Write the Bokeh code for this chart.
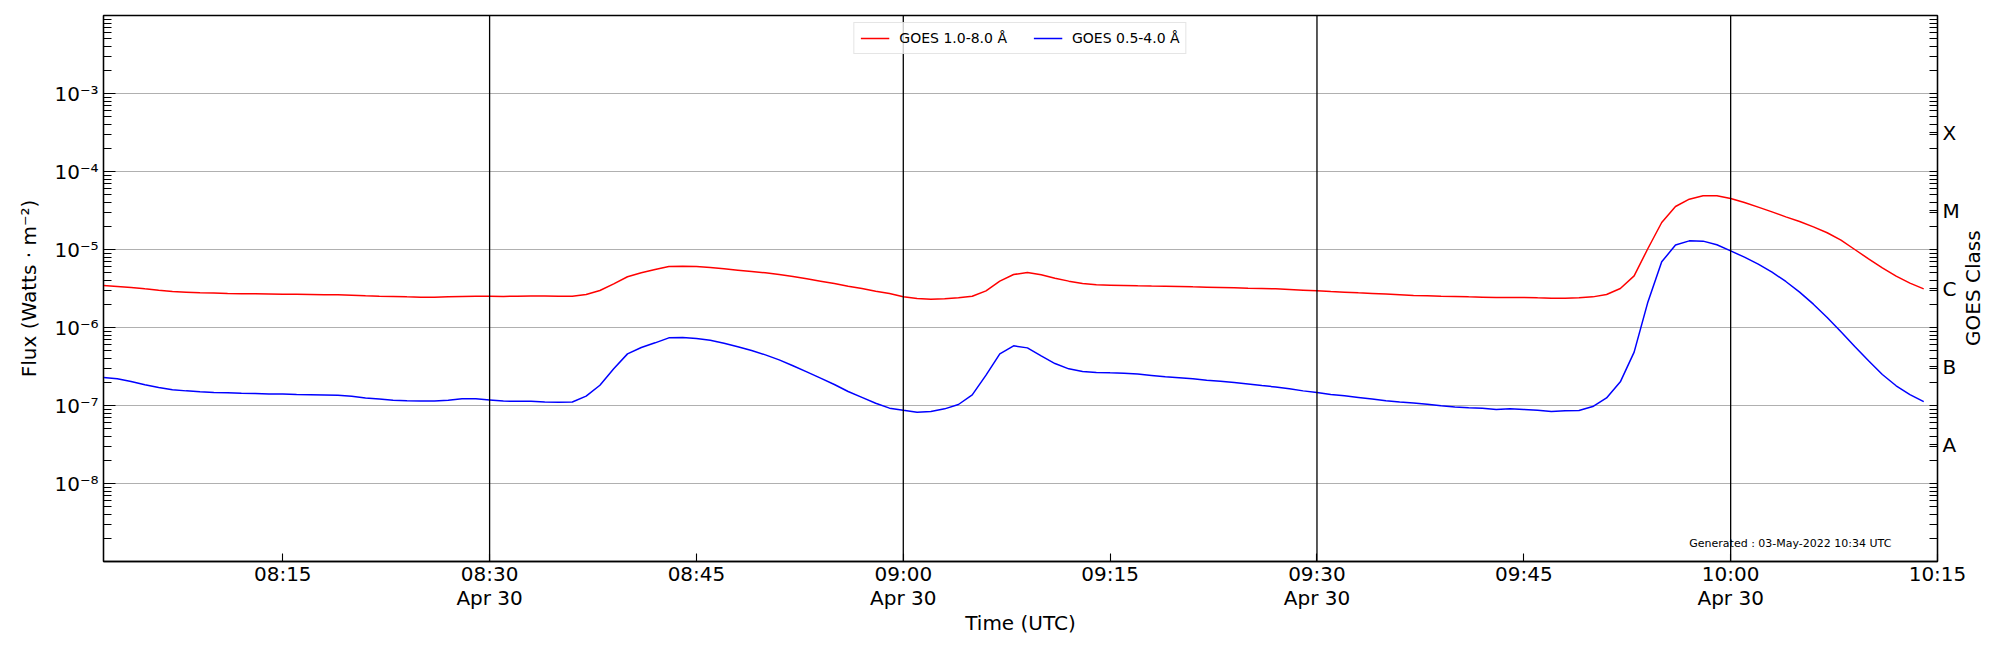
import math
import numpy as np
from bokeh.plotting import figure
from bokeh.models import LogAxis, FixedTicker, Span, Legend, LegendItem, Label, ColumnDataSource
from bokeh.embed import file_html
from bokeh.resources import INLINE

# ---------------- data (1-minute GOES XRS samples, 2022-04-30 08:02 .. 10:14 UTC) ----------------
start_minute = 2          # minutes after 08:00 of first sample
n_samples = 133

goes_long = [  # GOES 1.0-8.0 A, W m^-2
    3.45e-6, 3.36e-6, 3.26e-6, 3.13e-6, 3.01e-6, 2.90e-6, 2.84e-6, 2.78e-6, 2.76e-6, 2.73e-6,
    2.71e-6, 2.71e-6, 2.69e-6, 2.67e-6, 2.67e-6, 2.65e-6, 2.62e-6, 2.62e-6, 2.59e-6, 2.55e-6,
    2.52e-6, 2.50e-6, 2.47e-6, 2.45e-6, 2.44e-6, 2.47e-6, 2.50e-6, 2.52e-6, 2.52e-6, 2.50e-6,
    2.52e-6, 2.54e-6, 2.54e-6, 2.52e-6, 2.52e-6, 2.65e-6, 2.98e-6, 3.63e-6, 4.47e-6, 5.02e-6,
    5.55e-6, 6.05e-6, 6.10e-6, 6.05e-6, 5.88e-6, 5.65e-6, 5.43e-6, 5.22e-6, 5.02e-6, 4.77e-6,
    4.51e-6, 4.21e-6, 3.93e-6, 3.66e-6, 3.39e-6, 3.16e-6, 2.92e-6, 2.73e-6, 2.48e-6, 2.36e-6,
    2.31e-6, 2.33e-6, 2.40e-6, 2.52e-6, 2.95e-6, 3.93e-6, 4.78e-6, 5.07e-6, 4.74e-6, 4.29e-6,
    3.93e-6, 3.67e-6, 3.52e-6, 3.49e-6, 3.46e-6, 3.42e-6, 3.40e-6, 3.39e-6, 3.36e-6, 3.32e-6,
    3.29e-6, 3.26e-6, 3.23e-6, 3.19e-6, 3.16e-6, 3.13e-6, 3.07e-6, 3.01e-6, 2.95e-6, 2.89e-6,
    2.84e-6, 2.78e-6, 2.73e-6, 2.68e-6, 2.63e-6, 2.57e-6, 2.55e-6, 2.52e-6, 2.50e-6, 2.47e-6,
    2.45e-6, 2.43e-6, 2.43e-6, 2.43e-6, 2.40e-6, 2.38e-6, 2.38e-6, 2.40e-6, 2.47e-6, 2.65e-6,
    3.16e-6, 4.59e-6, 1.03e-5, 2.22e-5, 3.56e-5, 4.42e-5, 4.88e-5, 4.88e-5, 4.51e-5, 4.01e-5,
    3.49e-5, 3.04e-5, 2.62e-5, 2.29e-5, 1.95e-5, 1.64e-5, 1.32e-5, 1.00e-5, 7.59e-6, 5.82e-6,
    4.55e-6, 3.70e-6, 3.13e-6,
]

goes_short = [  # GOES 0.5-4.0 A, W m^-2
    2.29e-7, 2.20e-7, 2.03e-7, 1.84e-7, 1.70e-7, 1.59e-7, 1.54e-7, 1.50e-7, 1.47e-7, 1.46e-7,
    1.44e-7, 1.43e-7, 1.40e-7, 1.40e-7, 1.38e-7, 1.37e-7, 1.36e-7, 1.35e-7, 1.31e-7, 1.25e-7,
    1.21e-7, 1.17e-7, 1.15e-7, 1.14e-7, 1.14e-7, 1.17e-7, 1.22e-7, 1.22e-7, 1.18e-7, 1.14e-7,
    1.13e-7, 1.13e-7, 1.11e-7, 1.10e-7, 1.11e-7, 1.32e-7, 1.82e-7, 2.95e-7, 4.59e-7, 5.54e-7,
    6.36e-7, 7.37e-7, 7.44e-7, 7.22e-7, 6.88e-7, 6.30e-7, 5.65e-7, 5.07e-7, 4.46e-7, 3.85e-7,
    3.23e-7, 2.70e-7, 2.24e-7, 1.86e-7, 1.51e-7, 1.27e-7, 1.07e-7, 9.25e-8, 8.71e-8, 8.22e-8,
    8.40e-8, 9.06e-8, 1.03e-7, 1.37e-7, 2.45e-7, 4.59e-7, 5.82e-7, 5.48e-7, 4.33e-7, 3.45e-7,
    2.95e-7, 2.73e-7, 2.65e-7, 2.62e-7, 2.60e-7, 2.53e-7, 2.43e-7, 2.33e-7, 2.27e-7, 2.20e-7,
    2.11e-7, 2.05e-7, 1.97e-7, 1.89e-7, 1.80e-7, 1.73e-7, 1.64e-7, 1.54e-7, 1.47e-7, 1.38e-7,
    1.33e-7, 1.27e-7, 1.21e-7, 1.15e-7, 1.11e-7, 1.08e-7, 1.04e-7, 9.90e-8, 9.60e-8, 9.33e-8,
    9.20e-8, 8.89e-8, 9.06e-8, 8.89e-8, 8.71e-8, 8.37e-8, 8.54e-8, 8.62e-8, 9.70e-8, 1.25e-7,
    2.01e-7, 4.83e-7, 2.13e-6, 6.95e-6, 1.14e-5, 1.29e-5, 1.28e-5, 1.15e-5, 9.60e-6, 7.97e-6,
    6.49e-6, 5.12e-6, 3.89e-6, 2.84e-6, 1.99e-6, 1.34e-6, 8.80e-7, 5.70e-7, 3.74e-7, 2.50e-7,
    1.79e-7, 1.38e-7, 1.12e-7,
]

x_tick_labels = ["08:15", "08:30\nApr 30", "08:45", "09:00\nApr 30", "09:15",
                 "09:30\nApr 30", "09:45", "10:00\nApr 30", "10:15"]
y_exponents = [-8, -7, -6, -5, -4, -3]
y_tick_labels = ["10⁻⁸", "10⁻⁷", "10⁻⁶", "10⁻⁵", "10⁻⁴", "10⁻³"]
goes_classes = ["A", "B", "C", "M", "X"]
class_exponents = [-8, -7, -6, -5, -4]
series_names = ["GOES 1.0-8.0 Å", "GOES 0.5-4.0 Å"]
right_axis_title = "GOES Class"
generated_text = "Generated : 03-May-2022 10:34 UTC"

# ---------------------------------------------------------------------------------------------
FONT = "DejaVu Sans"
minutes = np.arange(start_minute, start_minute + n_samples)


def label_minute(lbl):
    hh, mm = lbl.split("\n")[0].split(":")
    return (int(hh) - 8) * 60 + int(mm)


x_ticks = [label_minute(l) for l in x_tick_labels]
date_ticks = [label_minute(l) for l in x_tick_labels if "\n" in l]

source = ColumnDataSource(dict(t=minutes, long=goes_long, short=goes_short))

p = figure(width=2000, height=642, y_axis_type="log",
           x_range=(2, 135), y_range=(1e-9, 1e-2),
           output_backend="svg", toolbar_location=None,
           min_border_left=103, min_border_right=63, min_border_top=15, min_border_bottom=81)
p.background_fill_color = "white"
p.border_fill_color = "white"
p.outline_line_color = "black"
p.outline_line_width = 1.3

# ---- y axis (left)
decades = [10.0 ** e for e in y_exponents]
minors = [k * 10.0 ** e for e in range(-9, -2) for k in range(2, 10)]
yax = p.yaxis[0]
yax.ticker = FixedTicker(ticks=decades, minor_ticks=minors)
yax.major_label_overrides = {d: s for d, s in zip(decades, y_tick_labels)}
yax.axis_label = "Flux (Watts · m⁻²)"

# ---- x axis (bottom)
xax = p.xaxis[0]
xax.ticker = FixedTicker(ticks=x_ticks, minor_ticks=[])
xax.major_label_overrides = {t: s for t, s in zip(x_ticks, x_tick_labels)}
xax.axis_label = "Time (UTC)"

# ---- right axis (GOES class)
class_pos = [10.0 ** (e + 0.5) for e in class_exponents]
rax = LogAxis(ticker=FixedTicker(ticks=class_pos, minor_ticks=decades + minors),
              major_label_overrides={v: s for v, s in zip(class_pos, goes_classes)})
p.add_layout(rax, "right")

for ax in (yax, xax, rax):
    ax.axis_line_color = "black"
    ax.axis_line_width = 1.3
    ax.major_tick_out = 0
    ax.minor_tick_out = 0
    ax.major_tick_line_color = "black"
    ax.minor_tick_line_color = "black"
    ax.major_tick_line_width = 1.1
    ax.minor_tick_line_width = 1.1
    ax.major_label_text_font = FONT
    ax.major_label_text_font_size = "20px"
    ax.major_label_text_color = "black"
    ax.axis_label_text_font = FONT
    ax.axis_label_text_font_size = "20px"
    ax.axis_label_text_font_style = "normal"
    ax.axis_label_text_color = "black"

yax.major_tick_in = 12
yax.minor_tick_in = 8
yax.major_label_standoff = 5
yax.axis_label_standoff = 10

xax.major_tick_in = 8
xax.minor_tick_line_color = None
xax.major_label_standoff = 0
xax.major_label_text_line_height = 1.0
xax.axis_label_standoff = -2

rax.major_tick_in = 8
rax.minor_tick_in = 8
rax.major_label_standoff = 5

# right-hand axis title ("GOES Class", reading bottom-to-top) drawn as the single
# tick label of an outer, line-less axis; the label starts at its tick and runs upward,
# so the tick sits half a label-length below the frame's vertical centre.
title_tick = 10 ** -6.237
tax = LogAxis(ticker=FixedTicker(ticks=[title_tick], minor_ticks=[]),
              major_label_overrides={title_tick: right_axis_title},
              major_label_orientation=math.pi / 2,
              axis_line_color=None, major_tick_line_color=None, minor_tick_line_color=None,
              major_tick_in=0, major_tick_out=0, minor_tick_in=0, minor_tick_out=0,
              major_label_standoff=11,
              major_label_text_font=FONT, major_label_text_font_size="20px",
              major_label_text_color="black")
p.add_layout(tax, "right")

# ---- grids
p.xgrid.visible = False
p.ygrid[0].ticker = FixedTicker(ticks=decades, minor_ticks=[])
p.ygrid.grid_line_color = "#b0b0b0"
p.ygrid.grid_line_width = 1.1

for t in date_ticks:
    p.add_layout(Span(location=t, dimension="height", line_color="black", line_width=1.3))

# ---- curves
r1 = p.line("t", "long", source=source, line_color="red", line_width=1.5)
r2 = p.line("t", "short", source=source, line_color="blue", line_width=1.5)

legend = Legend(items=[LegendItem(label=series_names[0], renderers=[r1]),
                       LegendItem(label=series_names[1], renderers=[r2])],
                location="top_center", orientation="horizontal",
                margin=7, padding=6, spacing=26,
                glyph_width=29, glyph_height=18, label_height=18, label_standoff=10,
                label_text_font=FONT, label_text_font_size="14px", label_text_color="black",
                border_line_color="#cccccc", border_line_width=1,
                background_fill_color="white", background_fill_alpha=0.8)
p.add_layout(legend, "center")

p.add_layout(Label(x=117.0, y=10 ** -8.775, text=generated_text, text_font=FONT,
                   text_font_size="11px", text_baseline="middle", text_align="left",
                   text_color="black"))

open("out.html", "w").write(file_html(p, INLINE))
